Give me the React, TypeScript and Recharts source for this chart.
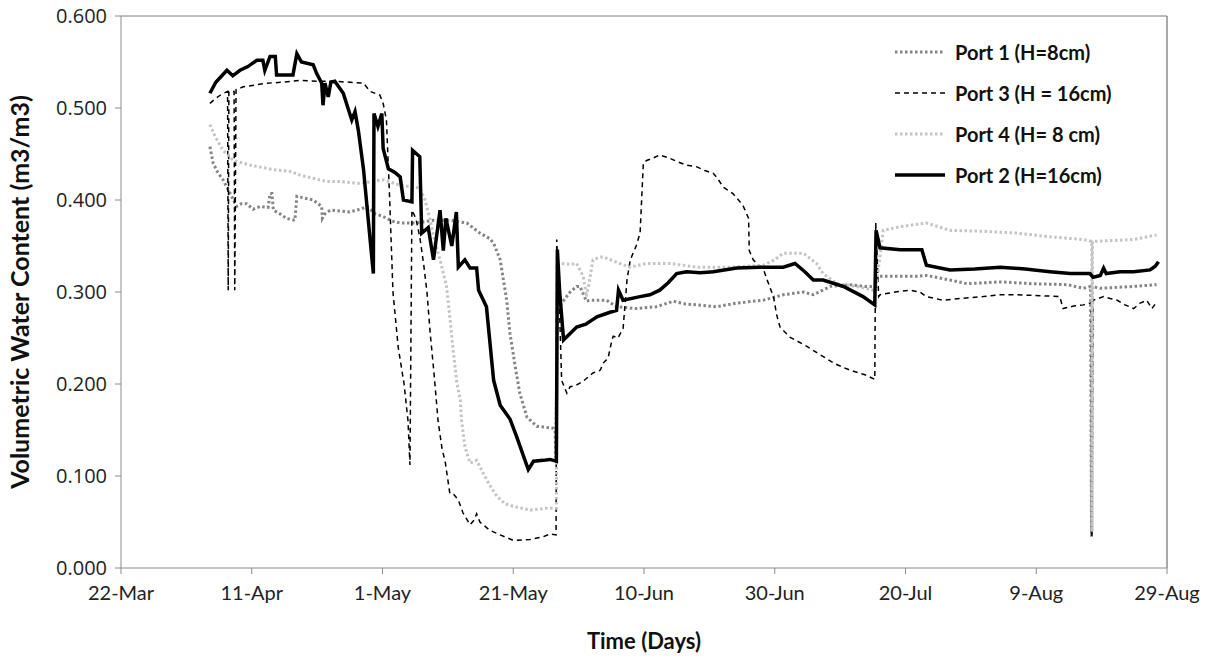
import { Label, Legend, Line, LineChart, ReferenceLine, XAxis, YAxis } from "recharts";

// days counted from 22-Mar
const dayTicks = [0, 20, 40, 60, 80, 100, 120, 140, 160];
const dayLabels = ["22-Mar", "11-Apr", "1-May", "21-May", "10-Jun", "30-Jun", "20-Jul", "9-Aug", "29-Aug"];
const vwcTicks = [0, 0.1, 0.2, 0.3, 0.4, 0.5, 0.6];

const port1 = [
  [13.6, 0.458], [14.1, 0.44], [14.8, 0.43], [15.6, 0.422], [16.7, 0.407], [17.7, 0.393], [18.4, 0.396],
  [19.2, 0.396], [20.2, 0.39], [21.3, 0.393], [22.5, 0.392], [22.8, 0.407], [23.1, 0.407], [23.3, 0.389],
  [24.3, 0.385], [25.3, 0.38], [26.6, 0.378], [26.9, 0.404], [28.1, 0.402], [29.4, 0.4], [30.7, 0.393],
  [30.8, 0.38], [31.2, 0.385], [32.0, 0.389], [33.5, 0.388], [35.0, 0.387], [36.6, 0.39], [37.6, 0.393],
  [38.9, 0.385], [40.1, 0.382], [41.5, 0.377], [42.7, 0.375], [45.2, 0.375], [47.8, 0.378], [50.3, 0.378],
  [52.9, 0.375], [54.9, 0.364], [56.4, 0.358], [57.0, 0.353], [58.0, 0.335], [59.0, 0.291], [59.5, 0.255],
  [60.3, 0.219], [61.0, 0.19], [62.1, 0.164], [63.6, 0.154], [64.9, 0.153], [66.1, 0.152], [66.4, 0.15],
  [66.5, 0.12], [66.75, 0.28], [67.4, 0.288], [68.7, 0.3], [69.7, 0.306], [70.2, 0.306], [71.2, 0.29],
  [71.7, 0.291], [72.8, 0.291], [74.3, 0.291], [75.8, 0.284], [78.9, 0.282], [81.9, 0.284], [84.5, 0.29],
  [86.3, 0.287], [88.1, 0.286], [91.1, 0.284], [94.2, 0.288], [98.2, 0.291], [101.3, 0.297], [104.4, 0.3],
  [105.9, 0.297], [108.5, 0.306], [111.5, 0.308], [113.8, 0.306], [115.5, 0.306], [115.6, 0.317],
  [119.2, 0.317], [121.7, 0.317], [123.2, 0.318], [126.8, 0.313], [129.4, 0.309], [134.5, 0.311],
  [139.5, 0.309], [144.7, 0.308], [147.2, 0.304], [148.3, 0.306], [148.45, 0.034], [148.6, 0.306],
  [149.8, 0.304], [154.8, 0.306], [158.4, 0.308],
];

const port3 = [
  [13.6, 0.505], [14.4, 0.51], [15.4, 0.515], [16.3, 0.518], [16.4, 0.302], [16.5, 0.518], [17.3, 0.518],
  [17.4, 0.302], [17.6, 0.52], [18.7, 0.523], [20.5, 0.525], [22.3, 0.527], [24.8, 0.528], [27.4, 0.53],
  [30.4, 0.529], [32.5, 0.529], [35.0, 0.528], [37.1, 0.527], [38.1, 0.518], [39.6, 0.514], [40.1, 0.505],
  [40.6, 0.487], [41.1, 0.4], [41.6, 0.3], [42.4, 0.24], [43.3, 0.2], [43.9, 0.16], [44.2, 0.112],
  [44.5, 0.389], [45.1, 0.38], [45.7, 0.36], [46.3, 0.33], [46.8, 0.3], [47.3, 0.255], [47.9, 0.21],
  [48.5, 0.16], [49.1, 0.13], [49.6, 0.115], [50.3, 0.081], [50.9, 0.08], [51.6, 0.074], [52.3, 0.06],
  [53.4, 0.047], [54.0, 0.052], [54.4, 0.059], [54.9, 0.05], [56.4, 0.041], [58.0, 0.036], [60.0, 0.03],
  [62.6, 0.031], [64.6, 0.034], [65.6, 0.037], [66.55, 0.036], [66.65, 0.357], [67.0, 0.3], [67.4, 0.204],
  [68.2, 0.19], [68.7, 0.197], [69.5, 0.198], [70.7, 0.203], [72.2, 0.212], [73.3, 0.215], [73.8, 0.223],
  [74.5, 0.228], [75.1, 0.248], [75.3, 0.252], [76.0, 0.25], [76.8, 0.26], [77.4, 0.313], [77.9, 0.335],
  [78.8, 0.35], [79.4, 0.364], [79.9, 0.44], [80.4, 0.443], [81.2, 0.445], [82.4, 0.449], [83.7, 0.446],
  [85.0, 0.442], [86.4, 0.438], [88.1, 0.436], [89.3, 0.432], [90.6, 0.429], [91.3, 0.423], [92.1, 0.414],
  [93.6, 0.407], [94.7, 0.398], [95.2, 0.393], [96.0, 0.38], [96.1, 0.345], [96.7, 0.335], [98.3, 0.324],
  [98.9, 0.312], [99.8, 0.295], [100.3, 0.275], [100.8, 0.262], [102.3, 0.251], [104.9, 0.241],
  [106.9, 0.232], [109.2, 0.222], [111.5, 0.215], [113.8, 0.21], [115.3, 0.205], [115.45, 0.375],
  [115.9, 0.295], [116.1, 0.297], [118.4, 0.3], [120.7, 0.302], [122.2, 0.3], [123.2, 0.295], [125.8, 0.291],
  [128.3, 0.293], [131.9, 0.295], [134.5, 0.297], [137.0, 0.297], [140.6, 0.296], [143.6, 0.295],
  [144.1, 0.282], [145.9, 0.285], [147.2, 0.286], [148.4, 0.288], [148.5, 0.035], [148.7, 0.291],
  [150.3, 0.295], [151.3, 0.293], [152.4, 0.291], [153.6, 0.286], [154.9, 0.282], [155.9, 0.288],
  [156.9, 0.291], [157.7, 0.282], [158.5, 0.29],
];

const port4 = [
  [13.6, 0.482], [14.4, 0.469], [15.6, 0.454], [17.2, 0.443], [19.7, 0.438], [23.3, 0.433], [25.9, 0.431],
  [27.4, 0.427], [31.5, 0.42], [33.5, 0.42], [36.6, 0.418], [40.1, 0.422], [42.7, 0.416], [45.7, 0.413],
  [46.5, 0.4], [47.3, 0.378], [48.0, 0.355], [48.8, 0.335], [49.8, 0.306], [50.3, 0.273], [50.8, 0.237],
  [51.4, 0.2], [51.9, 0.183], [52.1, 0.16], [52.6, 0.132], [53.4, 0.114], [54.4, 0.117], [55.4, 0.103],
  [56.4, 0.09], [57.5, 0.078], [58.7, 0.07], [60.0, 0.067], [62.6, 0.063], [65.1, 0.065], [66.6, 0.065],
  [66.7, 0.33], [67.4, 0.331], [68.7, 0.33], [69.7, 0.331], [70.2, 0.324], [70.7, 0.317], [71.2, 0.295],
  [71.5, 0.306], [72.2, 0.335], [73.3, 0.338], [73.8, 0.338], [76.3, 0.331], [77.8, 0.327], [80.4, 0.331],
  [84.0, 0.331], [88.1, 0.327], [93.2, 0.327], [98.2, 0.329], [100.0, 0.335], [101.3, 0.342], [104.4, 0.342],
  [106.4, 0.331], [107.4, 0.32], [109.5, 0.309], [112.5, 0.306], [115.1, 0.302], [115.4, 0.3],
  [116.6, 0.367], [119.2, 0.371], [123.2, 0.375], [126.8, 0.367], [131.9, 0.366], [137.0, 0.364],
  [142.1, 0.36], [147.2, 0.357], [148.5, 0.355], [148.55, 0.04], [148.6, 0.355], [154.8, 0.357],
  [158.4, 0.362],
];

const port2 = [
  [13.6, 0.516], [14.5, 0.528], [16.2, 0.541], [17.1, 0.535], [18.2, 0.541], [19.4, 0.545], [20.8, 0.552],
  [21.7, 0.552], [22.0, 0.541], [22.8, 0.556], [23.6, 0.556], [23.8, 0.536], [25.9, 0.536], [26.3, 0.536],
  [26.9, 0.559], [27.6, 0.55], [29.4, 0.547], [29.9, 0.538], [30.7, 0.527], [30.9, 0.503], [31.2, 0.527],
  [31.7, 0.512], [32.1, 0.528], [32.7, 0.529], [34.0, 0.516], [34.8, 0.498], [35.3, 0.487], [35.8, 0.496],
  [36.3, 0.476], [37.1, 0.433], [37.8, 0.38], [38.6, 0.32], [38.7, 0.494], [39.3, 0.48], [39.9, 0.494],
  [40.1, 0.456], [40.9, 0.434], [41.9, 0.43], [42.7, 0.425], [43.2, 0.4], [44.5, 0.398], [44.6, 0.454],
  [45.7, 0.447], [46.0, 0.364], [47.0, 0.37], [47.8, 0.335], [48.8, 0.389], [49.3, 0.345], [49.7, 0.38],
  [50.6, 0.35], [51.3, 0.387], [51.6, 0.327], [52.6, 0.335], [53.4, 0.326], [54.4, 0.326], [54.7, 0.302],
  [55.9, 0.284], [57.0, 0.204], [58.0, 0.177], [59.5, 0.162], [60.5, 0.143], [62.3, 0.107], [63.1, 0.116],
  [64.6, 0.117], [65.6, 0.118], [66.6, 0.116], [66.75, 0.346], [67.1, 0.3], [67.7, 0.248], [68.7, 0.255],
  [69.7, 0.262], [71.1, 0.265], [72.8, 0.273], [74.8, 0.278], [75.8, 0.28], [76.1, 0.302], [76.8, 0.291],
  [79.4, 0.295], [80.9, 0.297], [82.4, 0.302], [83.7, 0.31], [85.0, 0.32], [86.5, 0.322], [88.6, 0.321],
  [90.6, 0.322], [94.2, 0.326], [97.7, 0.327], [101.3, 0.327], [103.1, 0.331], [104.6, 0.322],
  [105.9, 0.313], [107.4, 0.313], [110.5, 0.306], [113.5, 0.295], [115.3, 0.286], [115.5, 0.367],
  [116.1, 0.348], [119.2, 0.346], [122.5, 0.346], [123.2, 0.329], [126.8, 0.324], [130.6, 0.325],
  [134.5, 0.327], [138.3, 0.325], [142.1, 0.322], [145.2, 0.32], [148.2, 0.32], [148.7, 0.316],
  [149.8, 0.318], [150.3, 0.326], [150.7, 0.32], [152.8, 0.322], [154.9, 0.322], [157.4, 0.324],
  [158.2, 0.328], [158.7, 0.333],
];

const toRows = (pairs: number[][]) => pairs.map(([day, vwc]) => ({ day, vwc }));

const series = [
  { name: "Port 1 (H=8cm)", rows: toRows(port1), color: "#858585", width: 3, dash: "2.5 2.5" },
  { name: "Port 3 (H = 16cm)", rows: toRows(port3), color: "#000000", width: 1.5, dash: "5 4" },
  { name: "Port 4 (H= 8 cm)", rows: toRows(port4), color: "#c4c4c4", width: 3, dash: "2.5 2.5" },
  { name: "Port 2 (H=16cm)", rows: toRows(port2), color: "#000000", width: 3.5, dash: undefined },
];

const font = "Lato, 'Open Sans', sans-serif";

function LegendBox() {
  return (
    <div style={{ fontFamily: font, fontWeight: 700, fontSize: 20, color: "#111" }}>
      {series.map((s) => (
        <div key={s.name} style={{ display: "flex", alignItems: "center", height: 41 }}>
          <svg width={58} height={10} style={{ marginRight: 4 }}>
            <line
              x1={2}
              y1={5}
              x2={52}
              y2={5}
              stroke={s.color}
              strokeWidth={s.width}
              strokeDasharray={s.dash}
            />
          </svg>
          <span>{s.name}</span>
        </div>
      ))}
    </div>
  );
}

export default function App() {
  return (
    <div style={{ position: "absolute", left: 0, top: 0, background: "#fff" }}>
      <LineChart width={1213} height={657} margin={{ top: 16, right: 46, left: 0, bottom: 0 }}>
        <XAxis
          type="number"
          dataKey="day"
          domain={[0, 160]}
          ticks={dayTicks}
          tickFormatter={(d) => dayLabels[dayTicks.indexOf(d)]}
          height={89}
          stroke="#8c8c8c"
          tickSize={6}
          tickMargin={12}
          tick={{ fill: "#222", fontSize: 20, fontFamily: font }}
        >
          <Label
            value="Time (Days)"
            position="insideBottom"
            offset={8}
            style={{ fontFamily: font, fontWeight: 700, fontSize: 22, fill: "#111" }}
          />
        </XAxis>
        <YAxis
          type="number"
          domain={[0, 0.6]}
          ticks={vwcTicks}
          tickFormatter={(v) => v.toFixed(3)}
          width={121}
          stroke="#8c8c8c"
          tickSize={6}
          tickMargin={8}
          tick={{ fill: "#222", fontSize: 20, fontFamily: "'Open Sans', sans-serif" }}
        >
          <Label
            value="Volumetric Water Content (m3/m3)"
            angle={-90}
            position="insideLeft"
            offset={20}
            style={{ textAnchor: "middle", fontFamily: font, fontWeight: 700, fontSize: 25, fill: "#111" }}
          />
        </YAxis>
        <ReferenceLine y={0.6} stroke="#7a7a7a" />
        <ReferenceLine x={160} stroke="#555" />
        <Legend
          layout="horizontal"
          verticalAlign="middle"
          content={() => <LegendBox />}
          wrapperStyle={{ position: "absolute", top: 31, left: 893, width: 300 }}
        />
        {series.map((s) => (
          <Line
            key={s.name}
            data={s.rows}
            dataKey="vwc"
            name={s.name}
            type="linear"
            stroke={s.color}
            strokeWidth={s.width}
            strokeDasharray={s.dash}
            dot={false}
            activeDot={false}
            isAnimationActive={false}
          />
        ))}
      </LineChart>
    </div>
  );
}
